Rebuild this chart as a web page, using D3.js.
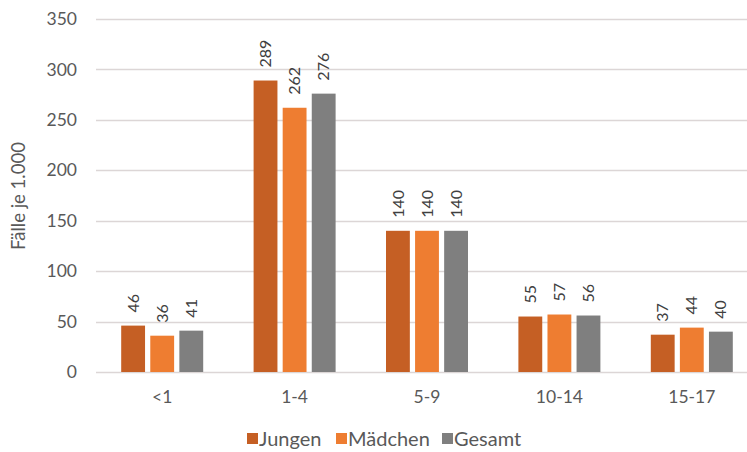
<!DOCTYPE html>
<html><head><meta charset="utf-8">
<script src="https://cdn.jsdelivr.net/npm/d3@7"></script>
<style>body{margin:0;background:#fff;} svg{display:block;font-family:Lato,"Open Sans",sans-serif;}</style>
</head><body><svg id="c" width="747" height="452"></svg>
<script>
const categories = ["<1", "1-4", "5-9", "10-14", "15-17"];
const seriesNames = ["Jungen", "Mädchen", "Gesamt"];
const jungen = [46, 289, 140, 55, 37];
const maedchen = [36, 262, 140, 57, 44];
const gesamt = [41, 276, 140, 56, 40];
const yTicks = [0, 50, 100, 150, 200, 250, 300, 350];
const colors = ["#C55F24", "#EE7D31", "#7F7F7F"];

const series = [jungen, maedchen, gesamt];
const svg = d3.select("#c");
const x = d3.scaleBand().domain(categories).range([96, 758]).paddingInner(0).paddingOuter(0);
const y = d3.scaleLinear().domain([0, 350]).range([372, 19]);
const half = x.bandwidth() / 2;
const inner = d3.scaleBand().domain(seriesNames).range([half - 41, half + 41]).paddingInner(0.18).paddingOuter(0);

// grid
svg.append("g").selectAll("line").data(yTicks).join("line")
  .attr("x1", 96).attr("x2", 758)
  .attr("y1", d => Math.round(y(d)) + 0.5).attr("y2", d => Math.round(y(d)) + 0.5)
  .attr("stroke", "#dcd6d6").attr("stroke-width", 1.5);

// y axis labels
svg.append("g").selectAll("text").data(yTicks).join("text")
  .attr("x", 77).attr("y", d => y(d)).attr("dy", "0.35em")
  .attr("text-anchor", "end").attr("font-size", 17.5).attr("fill", "#595959")
  .text(d => d);

// y title
svg.append("text").attr("transform", "translate(25,196) rotate(-90)")
  .attr("text-anchor", "middle").attr("font-size", 18.5).attr("fill", "#595959")
  .text("Fälle je 1.000");

// bars
const groups = svg.append("g").selectAll("g").data(categories).join("g")
  .attr("transform", d => `translate(${x(d)},0)`);
groups.each(function(cat, ci) {
  const g = d3.select(this);
  seriesNames.forEach((s, si) => {
    const v = series[si][ci];
    g.append("rect").attr("x", inner(s)).attr("width", inner.bandwidth())
      .attr("y", y(v)).attr("height", y(0) - y(v)).attr("fill", colors[si]);
    g.append("text")
      .attr("transform", `translate(${inner(s) + inner.bandwidth() / 2},${y(v) - 13}) rotate(-90)`)
      .attr("dy", "0.35em").attr("font-size", 16).attr("fill", "#404040")
      .text(v);
  });
});

// x labels
svg.append("g").selectAll("text").data(categories).join("text")
  .attr("x", d => x(d) + x.bandwidth() / 2).attr("y", 397).attr("dy", "0.35em")
  .attr("text-anchor", "middle").attr("font-size", 17.5).attr("fill", "#595959")
  .text(d => d);

// legend
const legX = [247, 336, 442];
const leg = svg.append("g");
seriesNames.forEach((s, i) => {
  leg.append("rect").attr("x", legX[i]).attr("y", 433).attr("width", 11).attr("height", 11).attr("fill", colors[i]);
  leg.append("text").attr("x", legX[i] + 12).attr("y", 438.5).attr("dy", "0.35em")
    .attr("font-size", 20).attr("fill", "#595959").text(s);
});
</script></body></html>
